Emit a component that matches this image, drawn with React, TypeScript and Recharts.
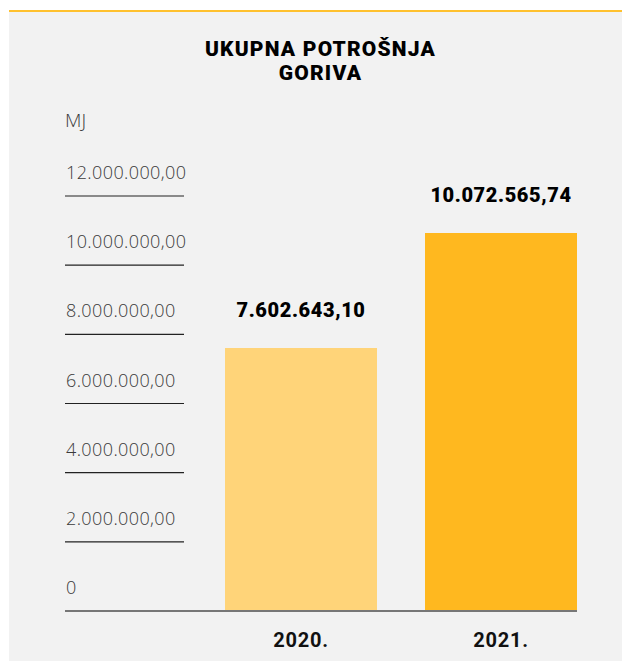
import React from 'react';
import { BarChart, Bar, XAxis, YAxis, Cell, LabelList } from 'recharts';

const categories = ['2020.', '2021.'];
// printed values (MJ)
const printedValues = ['7.602.643,10', '10.072.565,74'];
// bar heights as drawn in the reference (MJ)
const barValues = [7602643.1, 10930000];
const barColors = ['#FFD479', '#FFB81F'];
const yTicks = [0, 2000000, 4000000, 6000000, 8000000, 10000000, 12000000];
const yTickLabels = ['0', '2.000.000,00', '4.000.000,00', '6.000.000,00', '8.000.000,00', '10.000.000,00', '12.000.000,00'];
const titleLines = ['UKUPNA POTROŠNJA', 'GORIVA'];
const unitLabel = 'MJ';

const data = categories.map((c, i) => ({ name: c, value: barValues[i], label: printedValues[i] }));

const YTick = (props: any) => {
  const { y, payload } = props;
  const idx = yTicks.indexOf(payload.value);
  const isZero = payload.value === 0;
  return (
    <g>
      {isZero ? (
        <line x1={65} x2={577} y1={y} y2={y} stroke="#777" strokeWidth={2} />
      ) : (
        <line x1={65} x2={184} y1={y} y2={y} stroke="#222" strokeWidth={1.2} />
      )}
      <text x={66} y={y - 17} fill="#3a3a3a" fontFamily="'Open Sans'" fontWeight={300} fontSize={18} letterSpacing={0.4}>
        {yTickLabels[idx]}
      </text>
    </g>
  );
};

const XTick = (props: any) => {
  const { x, y, payload } = props;
  return (
    <text x={x} y={y + 28} textAnchor="middle" fill="#111" fontFamily="Roboto" fontWeight={700} fontSize={20} letterSpacing={0.8}>
      {payload.value}
    </text>
  );
};

const ValueLabel = (props: any) => {
  const { x, y, width, index } = props;
  return (
    <text x={x + width / 2} y={y - 31} textAnchor="middle" fill="#000" fontFamily="Roboto" fontWeight={900} fontSize={20} letterSpacing={0.6}>
      {printedValues[index]}
    </text>
  );
};

export default function App() {
  return (
    <div style={{ position: 'relative', width: 622, height: 661, background: '#fff', overflow: 'hidden' }}>
      <style>{'body{margin:0;overflow:hidden}'}</style>
      <div style={{ position: 'absolute', left: 9, top: 10, width: 613, height: 2, background: '#FFC12E' }} />
      <div style={{ position: 'absolute', left: 9, top: 12, width: 613, height: 649, background: '#F2F2F2' }} />
      <div style={{ position: 'absolute', left: 0, top: 0 }}>
        <BarChart
          width={622}
          height={661}
          data={data}
          margin={{ top: 196, right: 21, bottom: 0, left: 0 }}
          barCategoryGap={24}
        >
          <YAxis
            width={201}
            domain={[0, 12000000]}
            ticks={yTicks}
            interval={0}
            axisLine={false}
            tickLine={false}
            tick={<YTick />}
          />
          <XAxis dataKey="name" height={50} axisLine={false} tickLine={false} tick={<XTick />} />
          <Bar dataKey="value" isAnimationActive={false}>
            {data.map((d, i) => (
              <Cell key={d.name} fill={barColors[i]} />
            ))}
            <LabelList dataKey="label" content={<ValueLabel />} />
          </Bar>
        </BarChart>
      </div>
      <svg style={{ position: 'absolute', left: 0, top: 0, pointerEvents: 'none' }} width={622} height={661}>
        <text x={320.5} y={56} textAnchor="middle" fontFamily="Roboto" fontWeight={900} fontSize={21} letterSpacing={1.2} fill="#000">
          {titleLines[0]}
        </text>
        <text x={320.5} y={80} textAnchor="middle" fontFamily="Roboto" fontWeight={900} fontSize={21} letterSpacing={1.2} fill="#000">
          {titleLines[1]}
        </text>
        <text x={65} y={127} fontFamily="'Open Sans'" fontWeight={300} fontSize={19} fill="#3a3a3a">
          {unitLabel}
        </text>
      </svg>
    </div>
  );
}
